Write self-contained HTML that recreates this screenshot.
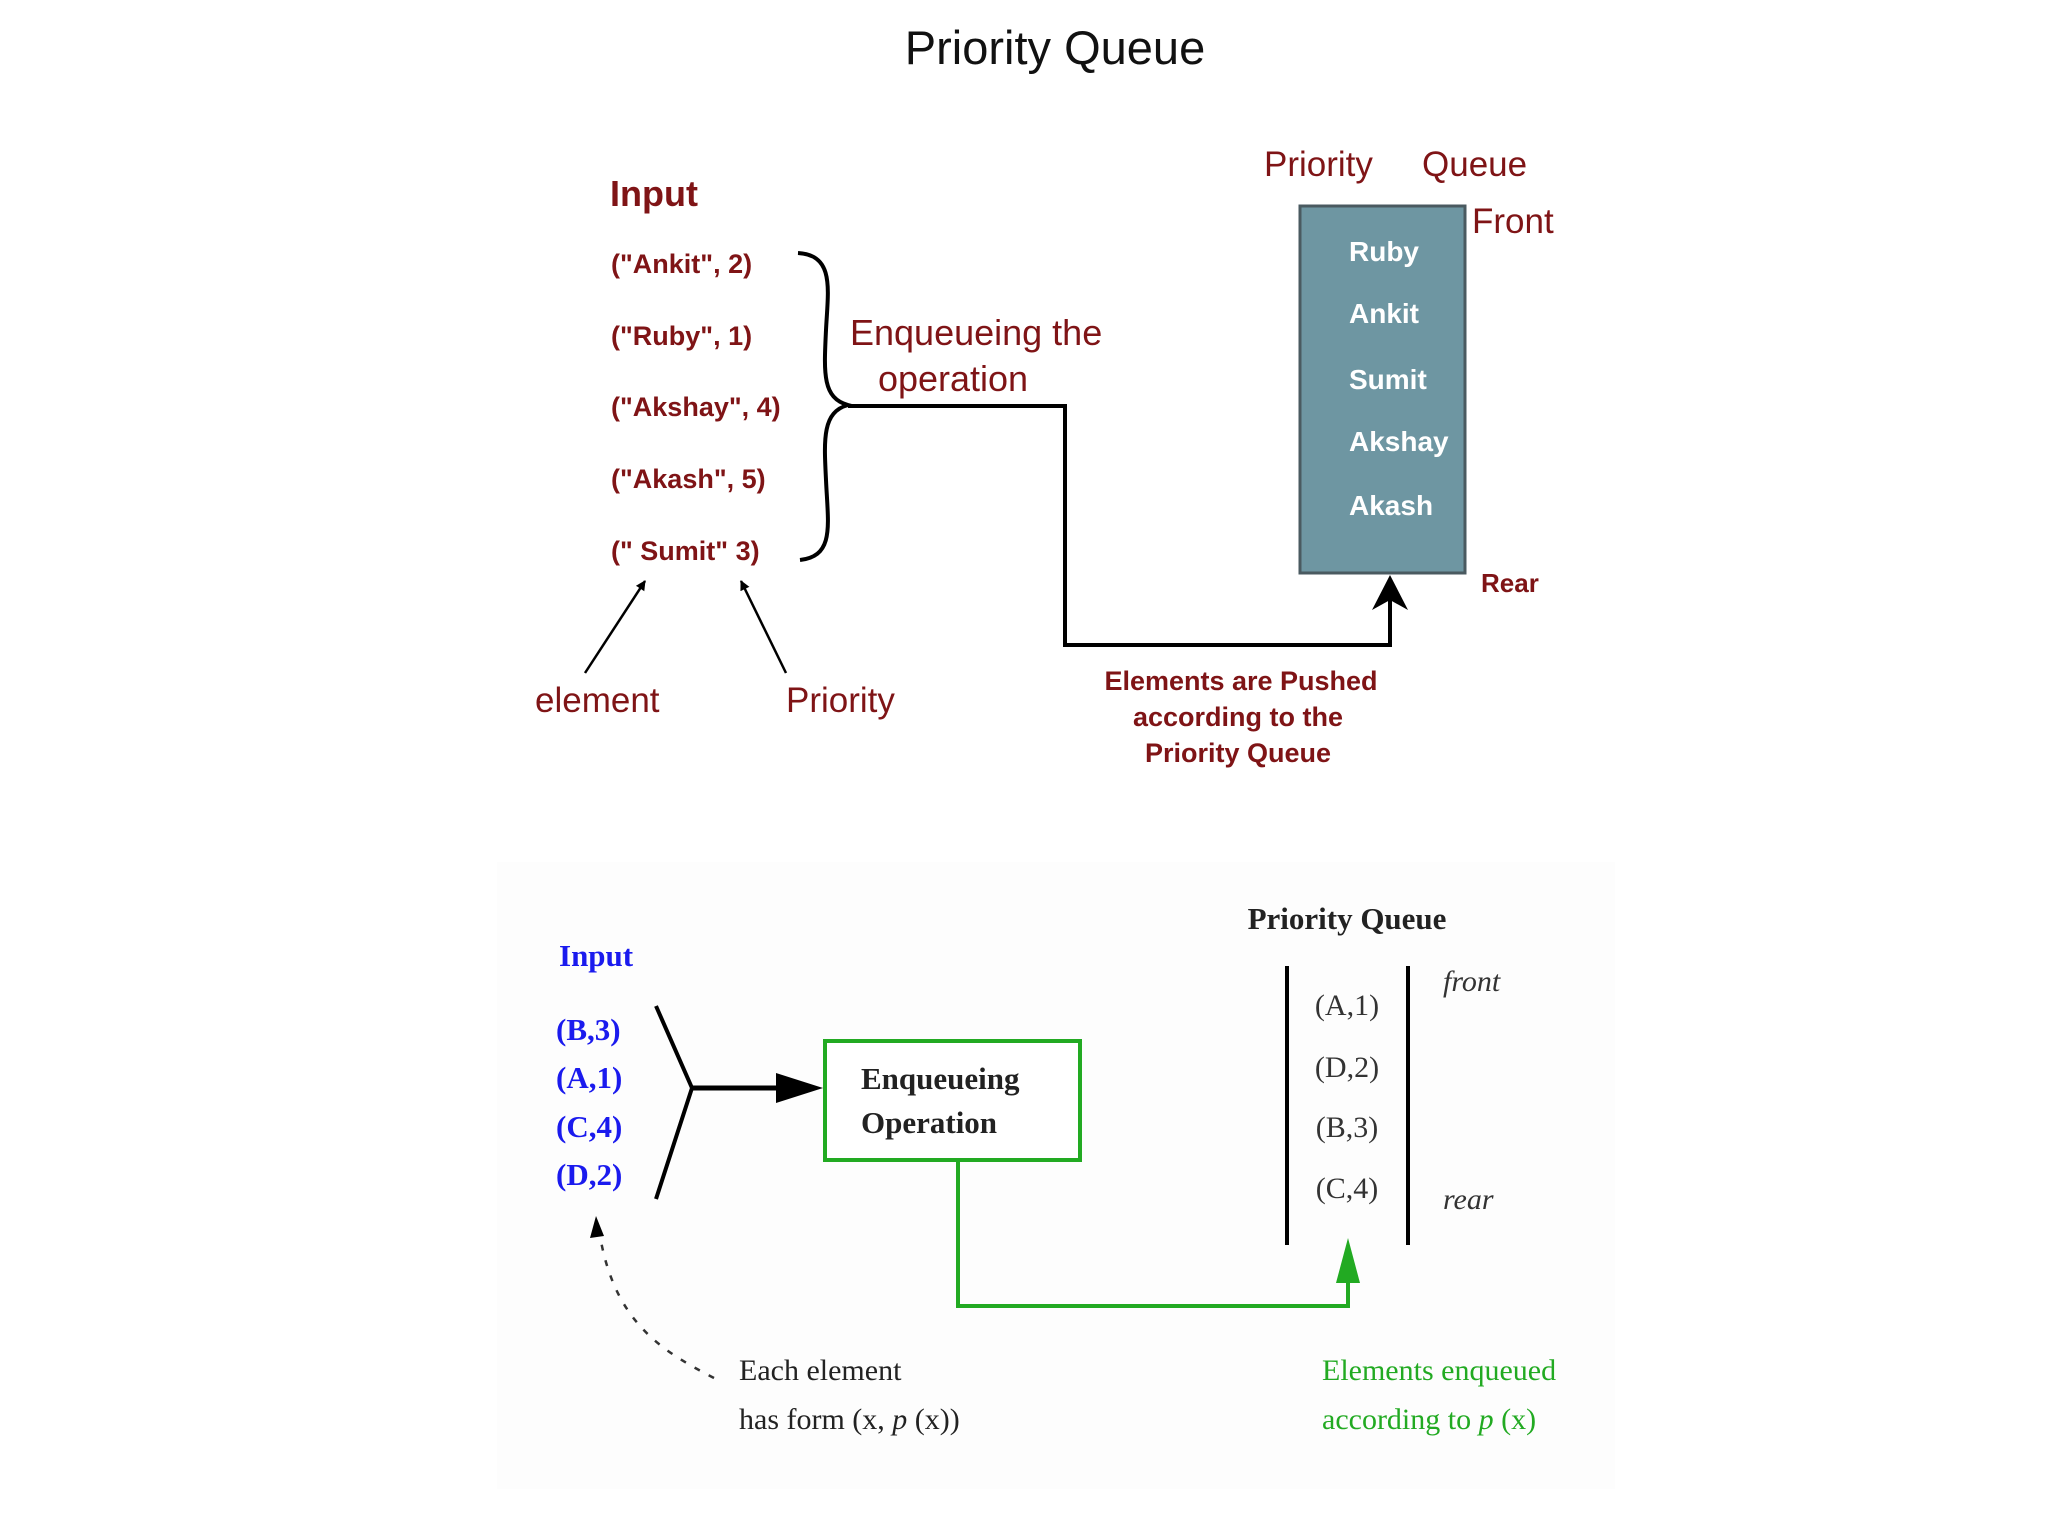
<!DOCTYPE html>
<html><head><meta charset="utf-8"><style>
html,body{margin:0;padding:0;background:#fff;}
svg{display:block;}
</style></head><body>
<svg width="2048" height="1536" viewBox="0 0 2048 1536" xmlns="http://www.w3.org/2000/svg">
<defs>
<marker id="ab" markerWidth="10" markerHeight="10" refX="9" refY="5" orient="auto" markerUnits="userSpaceOnUse"><path d="M0,0 L10,5 L0,10 Z" fill="#000"/></marker>
</defs>
<rect x="0" y="0" width="2048" height="1536" fill="#fff"/>
<rect x="497" y="862" width="1118" height="627" fill="#fdfdfd"/>
<text x="1055" y="64" text-anchor="middle" font-family="Liberation Sans, sans-serif" font-size="47" fill="#111">Priority Queue</text>

<g font-family="Liberation Sans, sans-serif" fill="#7f1416">
<text x="610" y="206" font-size="36" font-weight="bold">Input</text>
<g font-size="27" font-weight="bold">
<text x="611" y="273">("Ankit", 2)</text>
<text x="611" y="345">("Ruby", 1)</text>
<text x="611" y="416">("Akshay", 4)</text>
<text x="611" y="488">("Akash", 5)</text>
<text x="611" y="560">(" Sumit" 3)</text>
</g>
<text x="850" y="345" font-size="36">Enqueueing the</text>
<text x="953" y="391" text-anchor="middle" font-size="36">operation</text>
<text x="1264" y="176" font-size="35">Priority</text>
<text x="1422" y="176" font-size="35">Queue</text>
<text x="1472" y="233" font-size="35">Front</text>
<text x="1481" y="592" font-size="26" font-weight="bold">Rear</text>
<text x="535" y="712" font-size="35">element</text>
<text x="786" y="712" font-size="35">Priority</text>
<g font-size="27" font-weight="bold" text-anchor="middle">
<text x="1241" y="690">Elements are Pushed</text>
<text x="1238" y="726">according to the</text>
<text x="1238" y="762">Priority Queue</text>
</g>
</g>
<path d="M798,253 C835,255 828,290 826,330 C824,372 822,398 848,405 C822,412 824,440 826,480 C828,525 835,556 800,560" fill="none" stroke="#000" stroke-width="4"/>
<polyline points="848,406 1065,406 1065,645 1390,645 1390,595" fill="none" stroke="#000" stroke-width="4"/>
<path d="M1390,575 L1372,610 L1390,600 L1408,610 Z" fill="#000"/>
<rect x="1300" y="206" width="165" height="367" fill="#6e96a2" stroke="#4a5a60" stroke-width="3"/>
<g font-family="Liberation Sans, sans-serif" font-size="28" font-weight="bold" fill="#fff">
<text x="1349" y="261">Ruby</text>
<text x="1349" y="323">Ankit</text>
<text x="1349" y="389">Sumit</text>
<text x="1349" y="451">Akshay</text>
<text x="1349" y="515">Akash</text>
</g>
<line x1="585" y1="673" x2="645" y2="581" stroke="#000" stroke-width="2.5" marker-end="url(#ab)"/>
<line x1="786" y1="673" x2="741" y2="581" stroke="#000" stroke-width="2.5" marker-end="url(#ab)"/>

<rect x="825" y="1041" width="255" height="119" fill="#fff" stroke="#22aa22" stroke-width="4"/>
<g font-family="Liberation Serif, serif">
<text x="1347" y="929" text-anchor="middle" font-size="31" font-weight="bold" fill="#222">Priority Queue</text>
<text x="559" y="966" font-size="31" font-weight="bold" fill="#1a1aee">Input</text>
<g font-size="31" font-weight="bold" fill="#1a1aee">
<text x="556" y="1040">(B,3)</text>
<text x="556" y="1088">(A,1)</text>
<text x="556" y="1137">(C,4)</text>
<text x="556" y="1185">(D,2)</text>
</g>
<text x="861" y="1089" font-size="31" font-weight="bold" fill="#222">Enqueueing</text>
<text x="861" y="1133" font-size="31" font-weight="bold" fill="#222">Operation</text>
<g font-size="30" fill="#333" text-anchor="middle">
<text x="1347" y="1015">(A,1)</text>
<text x="1347" y="1077">(D,2)</text>
<text x="1347" y="1137">(B,3)</text>
<text x="1347" y="1198">(C,4)</text>
</g>
<text x="1443" y="991" font-size="30" font-style="italic" fill="#333">front</text>
<text x="1443" y="1209" font-size="30" font-style="italic" fill="#333">rear</text>
<text x="739" y="1380" font-size="30" fill="#222">Each element</text>
<text x="739" y="1429" font-size="30" fill="#222">has form (x, <tspan font-style="italic">p</tspan> (x))</text>
<text x="1322" y="1380" font-size="30" fill="#22aa22">Elements enqueued</text>
<text x="1322" y="1429" font-size="30" fill="#22aa22">according to  <tspan font-style="italic">p</tspan> (x)</text>
</g>
<polyline points="656,1006 692,1088 656,1199" fill="none" stroke="#000" stroke-width="4"/>
<line x1="692" y1="1088" x2="780" y2="1088" stroke="#000" stroke-width="5"/>
<path d="M823,1088 L776,1073 L776,1103 Z" fill="#000"/>
<polyline points="958,1160 958,1306 1348,1306 1348,1270" fill="none" stroke="#22aa22" stroke-width="4"/>
<path d="M1348,1238 L1336,1283 L1360,1283 Z" fill="#22aa22"/>
<line x1="1287" y1="966" x2="1287" y2="1245" stroke="#000" stroke-width="4"/>
<line x1="1408" y1="966" x2="1408" y2="1245" stroke="#000" stroke-width="4"/>
<path d="M714,1378 C660,1350 610,1320 598,1222" fill="none" stroke="#333" stroke-width="2.5" stroke-dasharray="6,10"/>
<path d="M596,1216 L590,1238 L604,1236 Z" fill="#000"/>
</svg>
</body></html>
